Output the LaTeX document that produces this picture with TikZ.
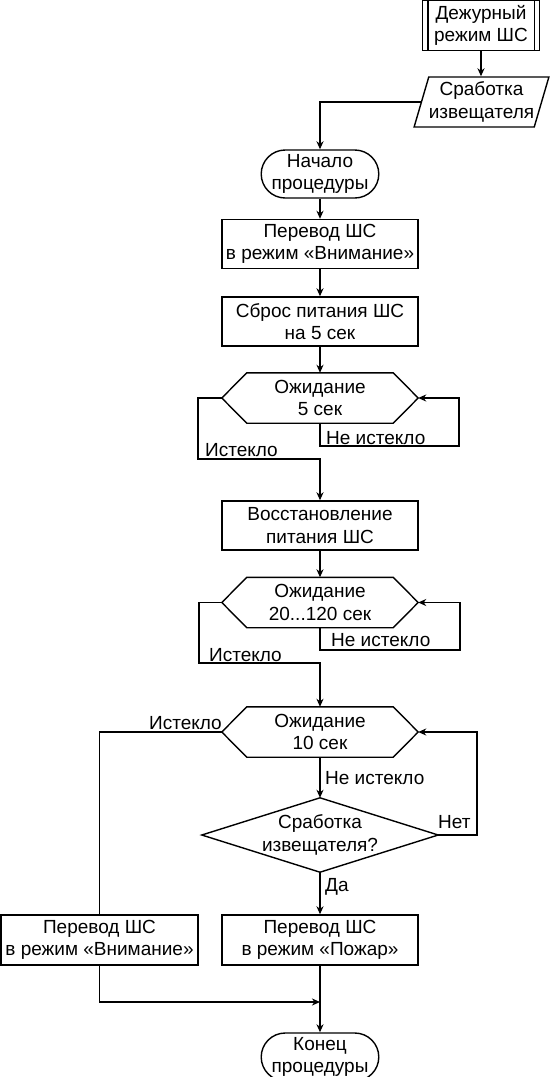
\documentclass[tikz,border=0pt]{standalone}
\usepackage{fontspec}
\setmainfont{Liberation Sans}
\usetikzlibrary{arrows.meta,shapes.geometric,shapes.misc}
\newcommand\drawhex[1]{\draw[line] (#1.west) -- ([xshift=25pt]#1.north west) -- ([xshift=-25pt]#1.north east) -- (#1.east) -- ([xshift=-25pt]#1.south east) -- ([xshift=25pt]#1.south west) -- cycle;}
\begin{document}
\begin{tikzpicture}[x=1pt,y=-1pt,
 every node/.style={font=\fontsize{19}{22.5}\selectfont, align=center, inner sep=0pt},
 line/.style={line width=1.4pt},
 arr/.style={line width=1.4pt,-{Stealth[length=8pt,width=7pt,inset=2.5pt]}},
 proc/.style={draw,line width=1.4pt,minimum width=196pt,minimum height=49pt},
 term/.style={draw,rounded rectangle,line width=1.4pt,minimum width=117pt,minimum height=48pt},
 hexa/.style={minimum width=196pt,minimum height=50pt}
]
\useasboundingbox (0,0) rectangle (550,1077);

\node[draw,line width=1.4pt,minimum width=117pt,minimum height=50pt] (d1) at (481,25.5) {Дежурный\\режим ШС};
\draw[line] ([xshift=6pt]d1.north west) -- ([xshift=6pt]d1.south west);
\draw[line] ([xshift=-6pt]d1.north east) -- ([xshift=-6pt]d1.south east);

\node[draw,line width=1.4pt,trapezium,trapezium left angle=70,trapezium right angle=110,trapezium stretches=true,minimum width=135pt,minimum height=50pt] (p1) at (481.5,102) {Сработка\\извещателя};

\node[term] (t1) at (320,174) {Начало\\процедуры};
\node[proc] (b1) at (320,244) {Перевод ШС\\в режим «Внимание»};
\node[proc] (b2) at (320,321.5) {Сброс питания ШС\\на 5 сек};
\node[hexa] (h1) at (320,398) {Ожидание\\5 сек};
\drawhex{h1}
\node[proc] (b3) at (320,525.5) {Восстановление\\питания ШС};
\node[hexa] (h2) at (320,602.5) {Ожидание\\20...120 сек};
\drawhex{h2}
\node[hexa] (h3) at (320,732) {Ожидание\\10 сек};
\drawhex{h3}
\node[minimum width=236pt,minimum height=74pt] (dm) at (320,835) {Сработка\\извещателя?};
\draw[line] (dm.west) -- (dm.north) -- (dm.east) -- (dm.south) -- cycle;
\node[proc,minimum width=197pt,minimum height=50pt] (b4) at (99.5,940) {Перевод ШС\\в режим «Внимание»};
\node[proc,minimum height=50pt] (b5) at (320,940) {Перевод ШС\\в режим «Пожар»};
\node[term] (t2) at (320,1057) {Конец\\процедуры};

\coordinate (h1r) at (459,446);
\coordinate (h1l) at (198,459);
\coordinate (h2r) at (460,650);
\coordinate (h2l) at (199,663);
\coordinate (nr) at (477,732);
\coordinate (j) at (320,1002);

\draw[arr] (d1.south) -- (d1.south |- p1.north);
\draw[arr] (p1.west) -| (t1.north);
\draw[arr] (t1.south) -- (b1.north);
\draw[arr] (b1.south) -- (b2.north);
\draw[arr] (b2.south) -- (h1.north);
\draw[arr] (h1.south) |- (h1r) |- (h1.east);
\draw[arr] (h1.west) -| (h1l) -| (b3.north);
\draw[arr] (b3.south) -- (h2.north);
\draw[arr] (h2.south) |- (h2r) |- (h2.east);
\draw[arr] (h2.west) -| (h2l) -| (h3.north);
\draw[arr] (h3.south) -- (dm.north);
\draw[arr] (dm.east) -| (nr) -- (h3.east);
\draw[line] (h3.west) -| (b4.north);
\draw[arr] (dm.south) -- (b5.north);
\draw[arr] (b4.south) |- (j);
\draw[arr] (b5.south) -- (t2.north);

\node[anchor=south west] (l1) at (326,445) {Не истекло};
\node[anchor=south west] (l2) at (205,457) {Истекло};
\node[anchor=south west] (l3) at (331,647) {Не истекло};
\node[anchor=south west] (l4) at (209,662) {Истекло};
\node[anchor=south east] (l5) at (222,730) {Истекло};
\node[anchor=west] (l6) at (325,778) {Не истекло};
\node[anchor=south west] (l7) at (438,829) {Нет};
\node[anchor=west] (l8) at (325,887) {Да};
\end{tikzpicture}
\end{document}
